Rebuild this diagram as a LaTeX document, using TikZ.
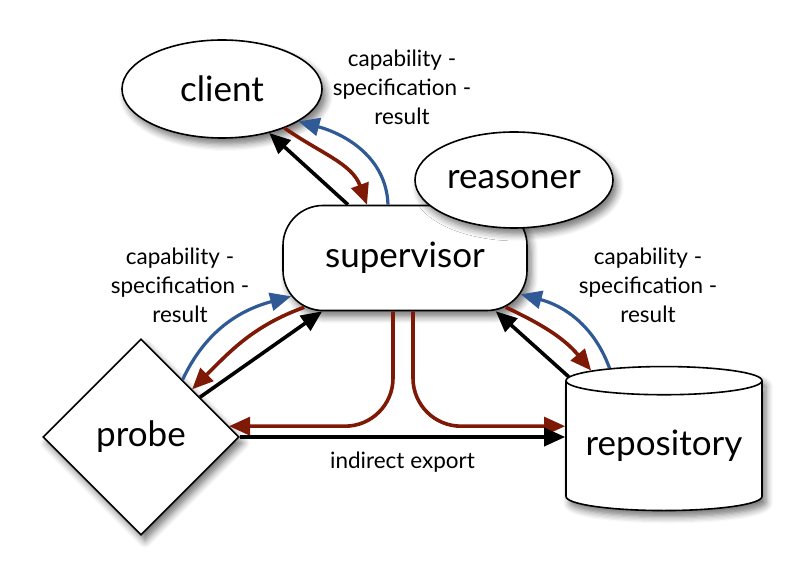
\documentclass[tikz,border=0pt]{standalone}
\usepackage{fontspec}
\setmainfont{Lato}
\usetikzlibrary{positioning,arrows.meta,shapes.geometric,shadows.blur}

\definecolor{flowred}{RGB}{125,25,5}
\definecolor{flowblue}{RGB}{48,90,150}

\begin{document}
\begin{tikzpicture}[
  x=1pt, y=-1pt,
  font=\fontsize{35}{40}\selectfont, >={Triangle[length=21pt,width=18pt]},
  comp/.style={draw, line width=1.6pt, fill=white, inner sep=0pt,
               blur shadow={shadow xshift=4pt, shadow yshift=-6pt,
                            shadow blur radius=7pt, shadow blur steps=6,
                            shadow opacity=55}},
  lab/.style={align=center, font=\fontsize{22.5}{29}\selectfont},
  blk/.style={line width=3.6pt, ->},
  rflow/.style={line width=3.6pt, color=flowred, ->},
  bflow/.style={line width=3.2pt, color=flowblue, ->},
]
\useasboundingbox (0,0) rectangle (804,585);

\node[comp, ellipse, minimum width=200pt, minimum height=98pt] (client) at (222,89) {client};
\node[comp, rounded corners=40pt, minimum width=244pt, minimum height=105pt] (sup) at (405,258) {supervisor};
\node[comp, ellipse, minimum width=198pt, minimum height=96pt] (reas) at (514,180) {reasoner};
\node[comp, diamond, minimum width=196pt, minimum height=196pt] (probe) at (141,437) {probe};
\node[comp, cylinder, shape border rotate=90, shape aspect=0.18,
      minimum width=196pt, minimum height=144pt] (repo) at (664,446) {repository};

\node[lab] (topnote) at (402,87) {capability -\\specification -\\result};
\node[lab] (leftnote) at (180,285) {capability -\\specification -\\result};
\node[lab] (rightnote) at (648,285) {capability -\\specification -\\result};

% client <-> supervisor
\draw[blk] ([xshift=-57pt]sup.north) -- (client.-43);
\draw[rflow] (client.-32) to[out=-35,in=110] ([xshift=-38pt]sup.north);
\draw[bflow] ([xshift=-17pt]sup.north) to[out=92,in=-15] (client.-23);

% probe <-> supervisor
\draw[blk] (probe.34) -- ([xshift=40pt]sup.south west);
\draw[rflow] ([xshift=22pt,yshift=4pt]sup.south west) to[out=200,in=45] (probe.43);
\draw[bflow] (probe.54) to[out=65,in=195] ([xshift=9pt,yshift=15pt]sup.south west);

% repository <-> supervisor
\draw[blk] (repo.144) -- ([xshift=-32pt]sup.south east);
\draw[rflow] ([xshift=-22pt,yshift=4pt]sup.south east) to[out=-25,in=130] (repo.134);
\draw[bflow] (repo.125) to[out=110,in=-15] ([xshift=-7pt,yshift=17pt]sup.south east);

% export
\draw[rflow, rounded corners=48pt] ([xshift=-12pt]sup.south) |- (probe.7);
\draw[rflow, rounded corners=48pt] ([xshift=8pt]sup.south) |- (probe.7 -| repo.west);
\draw[blk] (probe.east) -- node[lab, below=10pt] (exportlab) {indirect export} (probe.east -| repo.west);
\end{tikzpicture}
\end{document}
